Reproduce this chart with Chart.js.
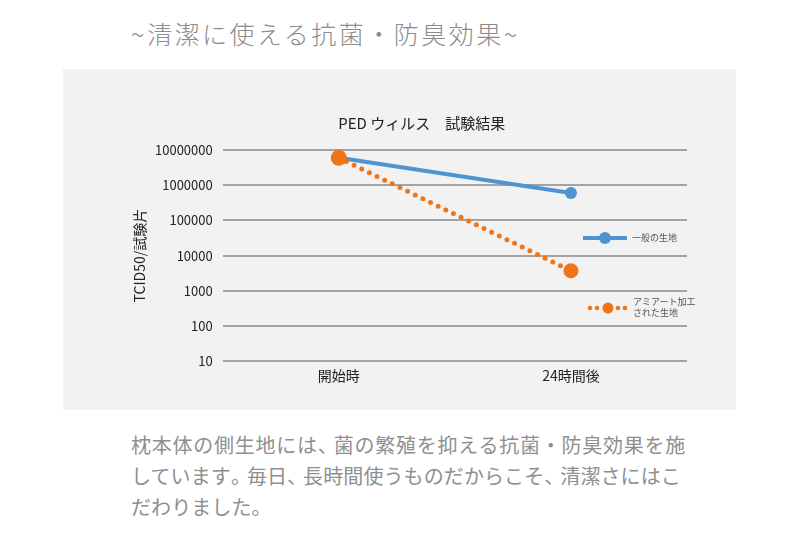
<!DOCTYPE html>
<html lang="ja">
<head>
<meta charset="utf-8">
<title>PED ウィルス 試験結果</title>
<script src="https://cdn.jsdelivr.net/npm/chart.js@4/dist/chart.umd.min.js"></script>
<style>
  html, body {
    margin: 0;
    padding: 0;
    width: 800px;
    height: 533px;
    background: #ffffff;
    overflow: hidden;
    font-family: "Noto Sans CJK JP", "Noto Sans", sans-serif;
  }
  .heading {
    position: absolute;
    left: 131px;
    top: 15px;
    font-size: 25px;
    font-weight: 300;
    color: #8c8c8c;
    letter-spacing: 2.5px;
    white-space: nowrap;
  }
  .panel {
    position: absolute;
    left: 63px;
    top: 69px;
    width: 673px;
    height: 341px;
    background: #f2f2f2;
  }
  .panel canvas {
    display: block;
  }
  .lead {
    position: absolute;
    left: 131px;
    top: 429px;
    font-size: 20px;
    line-height: 31px;
    color: #8f8f8f;
    white-space: nowrap;
  }
  .lead .l1 {
    letter-spacing: 0.75px;
  }
  .lead .l2 {
    letter-spacing: 0.1px;
  }
  .lead .p {
    letter-spacing: -4px;
  }
</style>
</head>
<body>
<div class="heading">~清潔に使える抗菌・防臭効果~</div>
<div class="panel">
  <canvas id="chart-ped" width="673" height="341"></canvas>
</div>
<div class="lead"><span class="l1">枕本体の側生地には<span class="p">、</span>菌の繁殖を抑える抗菌・防臭効果を施</span><br><span class="l2">しています<span class="p">。</span>毎日<span class="p">、</span>長時間使うものだからこそ<span class="p">、</span>清潔さにはこ</span><br><span class="l2">だわりました<span class="p">。</span></span></div>

<script>
const chartTitle = "PED ウィルス　試験結果";
const yAxisTitle = "TCID50/試験片";
const categories = ["開始時", "24時間後"];
const yTicks = [10, 100, 1000, 10000, 100000, 1000000, 10000000];

const seriesNormal = [6000000, 600000];
const seriesAmiart = [6000000, 3700];

const labelNormal = ["一般の生地"];
const labelAmiart = ["アミアート加工", "された生地"];

const blue = "#4f93d2";
const orange = "#f07519";
const fontFamily = '"Noto Sans CJK JP", "Noto Sans", sans-serif';

// タイトル・軸タイトル・凡例は手書きで配置
const annotations = {
  id: "annotations",
  afterDraw(chart) {
    const { ctx, chartArea } = chart;
    ctx.save();

    ctx.fillStyle = "#222";
    ctx.font = `15px ${fontFamily}`;
    ctx.textAlign = "center";
    ctx.textBaseline = "middle";
    ctx.fillText(chartTitle, chartArea.left + 199, 54);

    // 縦軸タイトル
    ctx.save();
    ctx.translate(chartArea.left - 83, (chartArea.top + chartArea.bottom) / 2);
    ctx.rotate(-Math.PI / 2);
    ctx.font = `14px ${fontFamily}`;
    ctx.fillText(yAxisTitle, 0, 0);
    ctx.restore();

    const lx = chartArea.right - 104;

    // 一般の生地
    const y1 = chartArea.top + 88;
    ctx.strokeStyle = blue;
    ctx.lineWidth = 4;
    ctx.beginPath();
    ctx.moveTo(lx, y1);
    ctx.lineTo(lx + 44, y1);
    ctx.stroke();
    ctx.fillStyle = blue;
    ctx.beginPath();
    ctx.arc(lx + 22, y1, 6, 0, Math.PI * 2);
    ctx.fill();

    ctx.fillStyle = "#555";
    ctx.font = `9px ${fontFamily}`;
    ctx.textAlign = "left";
    ctx.fillText(labelNormal[0], lx + 49, y1);

    // アミアート加工
    const y2 = chartArea.top + 158;
    ctx.fillStyle = orange;
    [7, 14, 35, 42].forEach((dx) => {
      ctx.beginPath();
      ctx.arc(lx + dx, y2, 2.3, 0, Math.PI * 2);
      ctx.fill();
    });
    ctx.beginPath();
    ctx.arc(lx + 25, y2, 5.5, 0, Math.PI * 2);
    ctx.fill();

    ctx.fillStyle = "#555";
    labelAmiart.forEach((line, i) => {
      ctx.fillText(line, lx + 50, y2 - 6 + i * 11);
    });

    ctx.restore();
  },
};

const ctx = document.getElementById("chart-ped");
new Chart(ctx, {
  type: "line",
  data: {
    labels: categories,
    datasets: [
      {
        label: labelNormal.join(""),
        data: seriesNormal,
        borderColor: blue,
        backgroundColor: blue,
        borderWidth: 4,
        pointRadius: 6,
        pointBorderWidth: 0,
        pointBackgroundColor: blue,
        tension: 0,
        order: 1,
      },
      {
        label: labelAmiart.join(""),
        data: seriesAmiart,
        borderColor: orange,
        backgroundColor: orange,
        borderWidth: 5,
        borderDash: [0, 8.5],
        borderCapStyle: "round",
        pointRadius: [8, 7.5],
        pointBorderWidth: 0,
        pointBackgroundColor: orange,
        tension: 0,
        order: 0,
      },
    ],
  },
  options: {
    responsive: false,
    animation: false,
    layout: {
      padding: { top: 81, right: 49, bottom: 20, left: 82 },
    },
    plugins: {
      legend: { display: false },
      title: { display: false },
      tooltip: { enabled: false },
    },
    scales: {
      x: {
        type: "category",
        offset: true,
        grid: { display: false, drawTicks: false },
        border: { display: false },
        ticks: {
          padding: 6,
          color: "#222",
          font: { family: fontFamily, size: 14 },
        },
      },
      y: {
        type: "logarithmic",
        min: yTicks[0],
        max: yTicks[yTicks.length - 1],
        afterBuildTicks: (scale) => {
          scale.ticks = yTicks.map((value) => ({ value }));
        },
        grid: { color: "#a3a3a3", lineWidth: 2, drawTicks: false },
        border: { display: false },
        ticks: {
          padding: 10,
          color: "#222",
          font: { family: fontFamily, size: 13 },
          callback: (value) => String(value),
        },
      },
    },
  },
  plugins: [annotations],
});
</script>
</body>
</html>
